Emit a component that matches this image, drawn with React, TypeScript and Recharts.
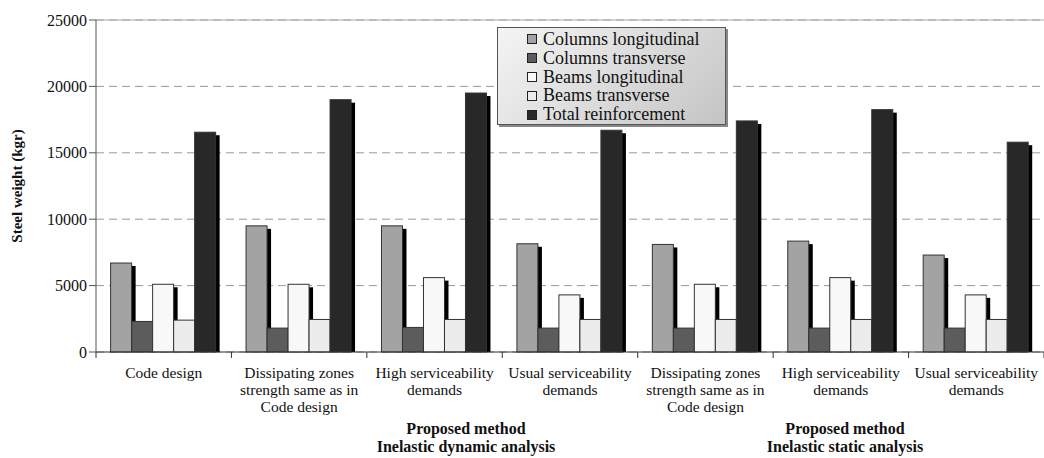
import React from 'react';
import { BarChart, Bar, XAxis, YAxis, CartesianGrid, ReferenceLine } from 'recharts';

const categories = [
  'Code design',
  'Dissipating zones|strength same as in|Code design',
  'High serviceability|demands',
  'Usual serviceability|demands',
  'Dissipating zones|strength same as in|Code design',
  'High serviceability|demands',
  'Usual serviceability|demands',
];
const columnsLongitudinal = [6700, 9500, 9500, 8150, 8100, 8350, 7300];
const columnsTransverse = [2300, 1800, 1850, 1800, 1800, 1800, 1800];
const beamsLongitudinal = [5100, 5100, 5600, 4300, 5100, 5600, 4300];
const beamsTransverse = [2400, 2450, 2450, 2450, 2450, 2450, 2450];
const totalReinforcement = [16550, 19000, 19500, 16700, 17400, 18250, 15800];
const yTicks = [0, 5000, 10000, 15000, 20000, 25000];

const seriesNames = [
  'Columns longitudinal',
  'Columns transverse',
  'Beams longitudinal',
  'Beams transverse',
  'Total reinforcement',
];
const seriesKeys = ['cl', 'ct', 'bl', 'bt', 'tot'];
const seriesColors = ['#a3a3a3', '#5c5c5c', '#f8f8f8', '#ececec', '#282828'];

const groupTitles = [
  { lines: ['Proposed method', 'Inelastic dynamic analysis'], x: 466 },
  { lines: ['Proposed method', 'Inelastic static analysis'], x: 845 },
];

const data = categories.map((c, i) => ({
  name: c,
  cl: columnsLongitudinal[i],
  ct: columnsTransverse[i],
  bl: beamsLongitudinal[i],
  bt: beamsTransverse[i],
  tot: totalReinforcement[i],
}));

const W = 1044;
const H = 458;
const M = { top: 20, right: 0, bottom: 0, left: 0 };
const Y_AXIS_W = 96;
const X_AXIS_H = 106;
const plotW = W - M.left - M.right - Y_AXIS_W;
const band = plotW / categories.length;
const FONT = '"Liberation Serif", "Times New Roman", serif';

const ShadowBar = (props: any) => {
  const { x, y, width, height, fill } = props;
  if (!height || height <= 0) return null;
  return (
    <g>
      <rect x={x + 3} y={y + 3} width={width + 1} height={height - 3} fill="#000" />
      <rect x={x} y={y} width={width} height={height} fill={fill} stroke="#333" strokeWidth={1} />
    </g>
  );
};

const XTick = (props: any) => {
  const { x, y, payload, index } = props;
  const lines = String(payload.value).split('|');
  const axisY = y - 8;
  return (
    <g>
      <line x1={x - band / 2} x2={x - band / 2} y1={axisY} y2={axisY + 6} stroke="#333" />
      {index === categories.length - 1 && (
        <line x1={x + band / 2} x2={x + band / 2} y1={axisY} y2={axisY + 6} stroke="#333" />
      )}
      {lines.map((l, i) => (
        <text
          key={i}
          x={x}
          y={axisY + 26 + i * 17}
          textAnchor="middle"
          fontFamily={FONT}
          fontSize={15.5}
          fill="#111"
        >
          {l}
        </text>
      ))}
    </g>
  );
};

const LegendBox = () => (
  <div
    style={{
      position: 'absolute',
      left: 497,
      top: 27,
      width: 229,
      height: 98,
      boxSizing: 'border-box',
      border: '1px solid #555',
      background: 'linear-gradient(135deg, #f4f4f4 0%, #d8d8d8 60%, #c4c4c4 100%)',
      boxShadow: '2px 2px 0 #888',
      fontFamily: FONT,
      fontSize: 18,
      color: '#111',
      paddingTop: 2,
    }}
  >
    {seriesNames.map((n, i) => (
      <div key={n} style={{ display: 'flex', alignItems: 'center', height: 18.8, paddingLeft: 29 }}>
        <span
          style={{
            display: 'inline-block',
            width: 10,
            height: 10,
            background: seriesColors[i],
            border: '1px solid #222',
            marginRight: 6,
            boxSizing: 'border-box',
          }}
        />
        <span>{n}</span>
      </div>
    ))}
  </div>
);

export default function App() {
  return (
    <div style={{ position: 'absolute', left: 0, top: 0, width: W, height: H, background: '#fff' }}>
      <BarChart
        width={W}
        height={H}
        data={data}
        margin={M}
        barCategoryGap="10.8%"
        barGap={0}
      >
        <CartesianGrid vertical={false} stroke="#999" strokeDasharray="8 5" />
        <ReferenceLine y={25000} stroke="#aaa" strokeDasharray="0" />
        <XAxis
          dataKey="name"
          tickLine={false}
          axisLine={{ stroke: '#333' }}
          tick={<XTick />}
          interval={0}
          height={X_AXIS_H}
        />
        <YAxis
          width={Y_AXIS_W}
          domain={[0, 25000]}
          ticks={yTicks}
          interval={0}
          axisLine={{ stroke: '#555' }}
          tickLine={{ stroke: '#555' }}
          tickSize={7}
          tick={{ fontFamily: FONT, fontSize: 16, fill: '#111' }}
        />
        {seriesKeys.map((k, i) => (
          <Bar
            key={k}
            dataKey={k}
            name={seriesNames[i]}
            fill={seriesColors[i]}
            shape={<ShadowBar />}
            isAnimationActive={false}
          />
        ))}
      </BarChart>
      <LegendBox />
      <svg
        width={W}
        height={H}
        style={{ position: 'absolute', left: 0, top: 0, pointerEvents: 'none' }}
      >
        <text
          transform="translate(22,186) rotate(-90)"
          textAnchor="middle"
          fontFamily={FONT}
          fontWeight="bold"
          fontSize={15}
          fill="#111"
        >
          Steel weight (kgr)
        </text>
        {groupTitles.map((g, gi) =>
          g.lines.map((l, li) => (
            <text
              key={gi + '-' + li}
              x={g.x}
              y={434 + li * 18}
              textAnchor="middle"
              fontFamily={FONT}
              fontWeight="bold"
              fontSize={16}
              fill="#111"
            >
              {l}
            </text>
          ))
        )}
      </svg>
    </div>
  );
}
